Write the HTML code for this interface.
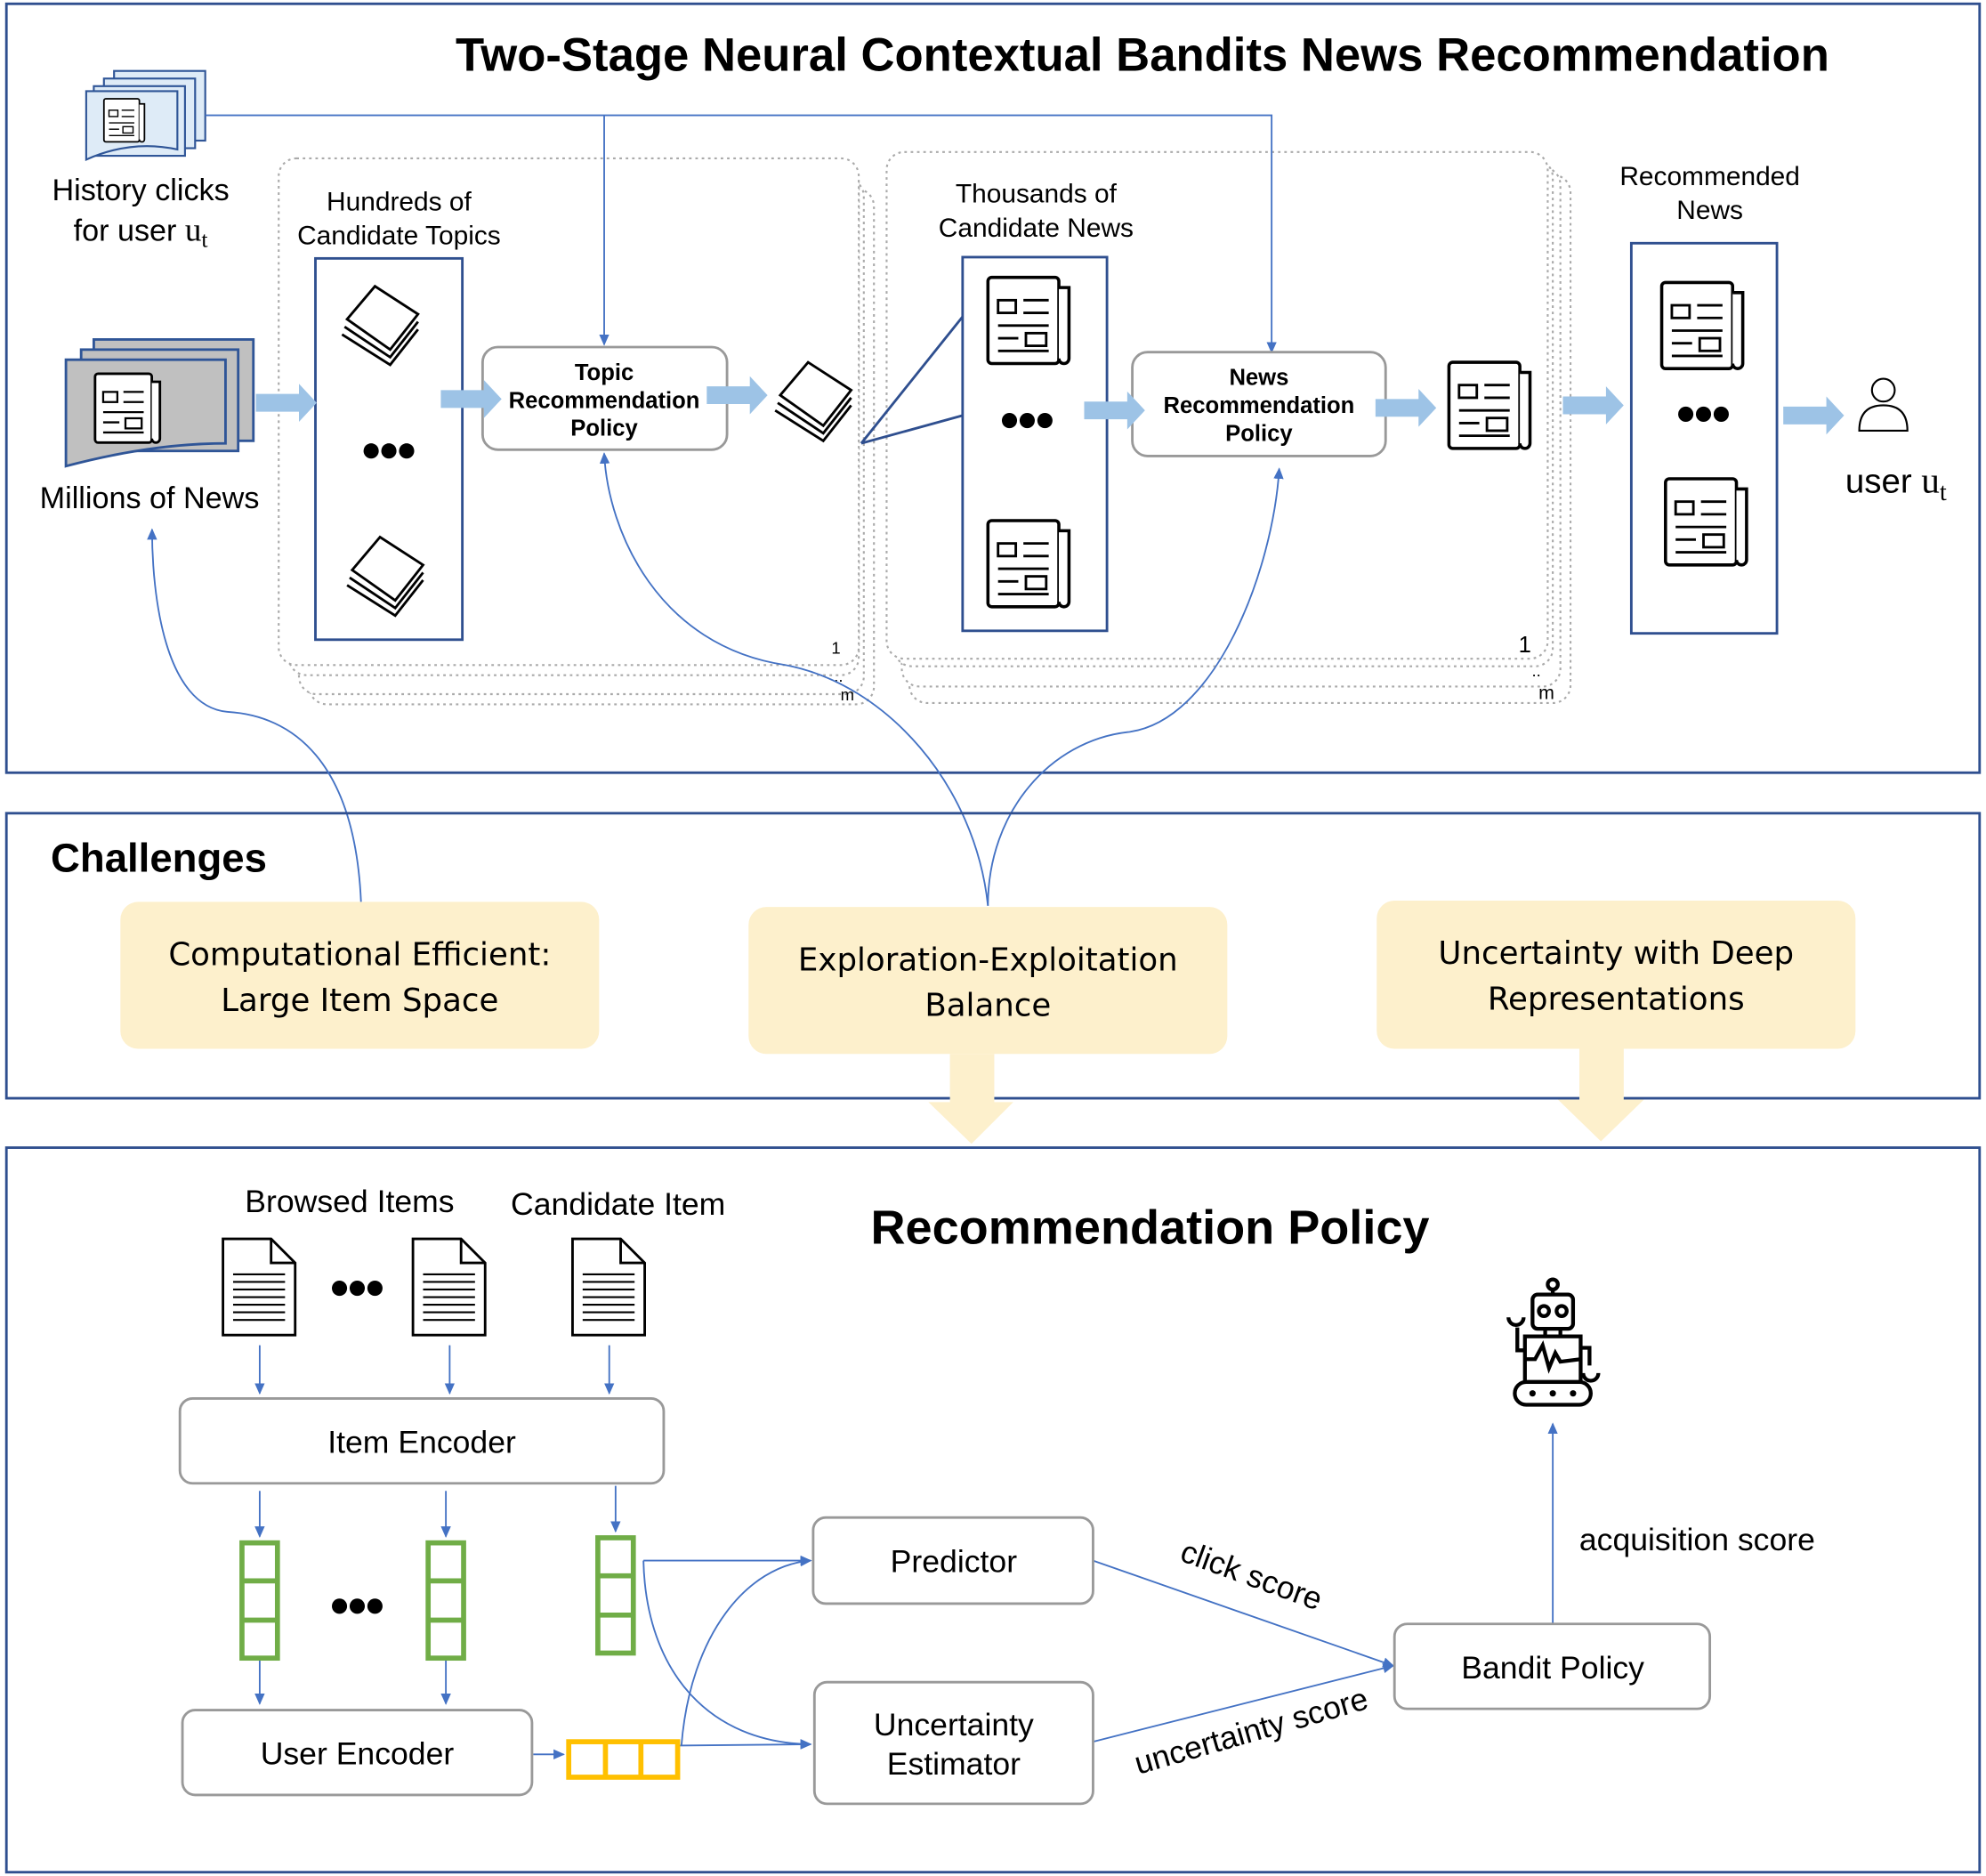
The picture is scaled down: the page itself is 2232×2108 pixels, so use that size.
<!DOCTYPE html>
<html><head><meta charset="utf-8"><style>
html,body{margin:0;padding:0;background:#fff}
svg{display:block}
text{font-family:"Liberation Sans",sans-serif;fill:#000}
</style></head><body>
<svg width="2232" height="2108" viewBox="0 0 1568 1481" xmlns="http://www.w3.org/2000/svg">
<defs>
<marker id="ah" markerWidth="10" markerHeight="10" refX="8" refY="5" orient="auto" markerUnits="userSpaceOnUse"><path d="M0,1 L9,5 L0,9 z" fill="#4472c4"/></marker>
<g id="np">
<rect x="0" y="0" width="56" height="68" rx="3" fill="#fff" stroke="#000" stroke-width="2.5"/>
<path d="M56,8 h8 v56 a4,4 0 0 1 -8,0" fill="#fff" stroke="#000" stroke-width="2.5"/>
<rect x="8" y="18" width="14" height="10" fill="none" stroke="#000" stroke-width="2"/>
<line x1="28" y1="18" x2="48" y2="18" stroke="#000" stroke-width="2"/><line x1="28" y1="28" x2="48" y2="28" stroke="#000" stroke-width="2"/>
<line x1="8" y1="38" x2="48" y2="38" stroke="#000" stroke-width="2"/>
<line x1="8" y1="48" x2="24" y2="48" stroke="#000" stroke-width="2"/><rect x="30" y="44" width="16" height="10" fill="none" stroke="#000" stroke-width="2"/>
<line x1="8" y1="58" x2="48" y2="58" stroke="#000" stroke-width="2"/>
</g>
<g id="stk">
<path d="M6,26 L28,0 L62,22 L40,50 Z" fill="#fff" stroke="#000" stroke-width="2"/>
<path d="M4,32 L40,56 L62,28" fill="none" stroke="#000" stroke-width="2"/>
<path d="M2,38 L40,62 L62,34" fill="none" stroke="#000" stroke-width="2"/>
</g>
<g id="doc">
<path d="M0,0 H38 L57,19 V76 H0 Z" fill="#fff" stroke="#000" stroke-width="2"/>
<path d="M38,0 V19 H57" fill="none" stroke="#000" stroke-width="2"/>
<g stroke="#000" stroke-width="1.5"><line x1="8" y1="28" x2="49" y2="28"/><line x1="8" y1="34" x2="49" y2="34"/><line x1="8" y1="40" x2="49" y2="40"/><line x1="8" y1="46" x2="49" y2="46"/><line x1="8" y1="52" x2="49" y2="52"/><line x1="8" y1="58" x2="49" y2="58"/><line x1="8" y1="64" x2="49" y2="64"/></g>
</g>
<g id="gv"><rect x="0" y="0" width="28" height="91" fill="none" stroke="#70ad47" stroke-width="4"/><line x1="0" y1="30" x2="28" y2="30" stroke="#70ad47" stroke-width="4"/><line x1="0" y1="61" x2="28" y2="61" stroke="#70ad47" stroke-width="4"/></g>
</defs>

<!-- TOP BOX -->
<rect x="5" y="3" width="1558" height="607" fill="none" stroke="#2f4f8f" stroke-width="2"/>
<text x="902" y="56" font-size="37" font-weight="bold" text-anchor="middle">Two-Stage Neural Contextual Bandits News Recommendation</text>

<!-- dotted stacks (back first) -->
<g stroke="#aaa" stroke-width="1.5" stroke-dasharray="2,3" fill="#fff">
<rect x="244" y="149" width="446" height="407" rx="14"/>
<rect x="236" y="141" width="446" height="407" rx="14"/>
<rect x="228" y="133" width="450" height="400" rx="14"/>
<rect x="220" y="125" width="458" height="400" rx="14"/>
<rect x="718" y="138" width="522" height="417" rx="14"/>
<rect x="712" y="132" width="520" height="410" rx="14"/>
<rect x="706" y="126" width="520" height="400" rx="14"/>
<rect x="700" y="120" width="522" height="400" rx="14"/>
</g>
<text x="660" y="516" font-size="13" text-anchor="middle">1</text>
<text x="662" y="538" font-size="13" text-anchor="middle">..</text>
<text x="669" y="553" font-size="13" text-anchor="middle">m</text>
<text x="1204" y="515" font-size="18" text-anchor="middle">1</text>
<text x="1213" y="534" font-size="13" text-anchor="middle">..</text>
<text x="1221" y="552" font-size="15" text-anchor="middle">m</text>

<!-- history icon -->
<g stroke="#2f5597" stroke-width="1.5" fill="#deebf7">
<rect x="90" y="56" width="72" height="55"/><rect x="82" y="62" width="72" height="55"/><rect x="74" y="68" width="72" height="55"/>
<path d="M68,72 H140 V118 Q104,110 68,126 Z"/>
</g>
<g transform="translate(82,78) scale(0.5)"><use href="#np"/></g>
<text x="111" y="158" font-size="24" text-anchor="middle">History clicks</text>
<text x="111" y="190" font-size="24" text-anchor="middle">for user <tspan font-family="Liberation Serif" font-size="26">u</tspan><tspan font-family="Liberation Serif" font-size="18" dy="5">t</tspan></text>

<!-- millions icon -->
<g stroke="#2f5597" stroke-width="2" fill="#c0c0c0">
<rect x="74" y="268" width="126" height="80"/><rect x="64" y="276" width="124" height="80"/>
<path d="M52,284 H178 V350 Q120,350 52,368 Z"/>
</g>
<g transform="translate(75,295) scale(0.8)"><use href="#np"/></g>
<text x="118" y="401" font-size="24" text-anchor="middle">Millions of News</text>

<!-- blue connectors top -->
<g stroke="#4472c4" stroke-width="1.3" fill="none">
<path d="M162,91 H1004 V278" marker-end="url(#ah)"/>
<path d="M477,91 V272" marker-end="url(#ah)"/>
<path d="M285,712 C280,600 230,565 180,562 C130,558 120,470 120,418" marker-end="url(#ah)"/>
<path d="M780,715 C770,620 700,540 620,525 C520,510 480,420 477,358" marker-end="url(#ah)"/>
<path d="M780,715 C780,640 830,585 890,578 C960,570 1005,450 1010,370" marker-end="url(#ah)"/>
</g>

<text x="315" y="166" font-size="21" text-anchor="middle">Hundreds of</text>
<text x="315" y="193" font-size="21" text-anchor="middle">Candidate Topics</text>
<rect x="249" y="204" width="116" height="301" fill="#fff" stroke="#2f4f8f" stroke-width="2"/>
<use href="#stk" x="268" y="226"/>
<use href="#stk" x="272" y="424"/>
<g fill="#000"><circle cx="293" cy="356" r="6"/><circle cx="307" cy="356" r="6"/><circle cx="321" cy="356" r="6"/></g>

<rect x="381" y="274" width="193" height="81" rx="12" fill="#fff" stroke="#999" stroke-width="2"/>
<text x="477" y="300" font-size="18" font-weight="bold" text-anchor="middle">Topic</text>
<text x="477" y="322" font-size="18" font-weight="bold" text-anchor="middle">Recommendation</text>
<text x="477" y="344" font-size="18" font-weight="bold" text-anchor="middle">Policy</text>

<use href="#stk" x="610" y="286"/>

<path d="M680,350 L760,250 M680,350 L760,328" stroke="#2f4f8f" stroke-width="2" fill="none"/>
<text x="818" y="160" font-size="21" text-anchor="middle">Thousands of</text>
<text x="818" y="187" font-size="21" text-anchor="middle">Candidate News</text>
<rect x="760" y="203" width="114" height="295" fill="#fff" stroke="#2f4f8f" stroke-width="2"/>
<use href="#np" x="780" y="219"/>
<use href="#np" x="780" y="411"/>
<g fill="#000"><circle cx="797" cy="332" r="6"/><circle cx="811" cy="332" r="6"/><circle cx="825" cy="332" r="6"/></g>

<rect x="894" y="278" width="200" height="82" rx="12" fill="#fff" stroke="#999" stroke-width="2"/>
<text x="994" y="304" font-size="18" font-weight="bold" text-anchor="middle">News</text>
<text x="994" y="326" font-size="18" font-weight="bold" text-anchor="middle">Recommendation</text>
<text x="994" y="348" font-size="18" font-weight="bold" text-anchor="middle">Policy</text>
<use href="#np" x="1144" y="286"/>

<text x="1350" y="146" font-size="21" text-anchor="middle">Recommended</text>
<text x="1350" y="173" font-size="21" text-anchor="middle">News</text>
<rect x="1288" y="192" width="115" height="308" fill="#fff" stroke="#2f4f8f" stroke-width="2"/>
<use href="#np" x="1312" y="223"/>
<use href="#np" x="1315" y="378"/>
<g fill="#000"><circle cx="1331" cy="327" r="6"/><circle cx="1345" cy="327" r="6"/><circle cx="1359" cy="327" r="6"/></g>

<circle cx="1487" cy="308" r="9" fill="none" stroke="#000" stroke-width="1.5"/>
<path d="M1468,340 Q1468,320 1487,320 Q1506,320 1506,340 Z" fill="none" stroke="#000" stroke-width="1.5"/>
<text x="1497" y="389" font-size="27" text-anchor="middle">user <tspan font-family="Liberation Serif" font-size="29">u</tspan><tspan font-family="Liberation Serif" font-size="20" dy="6">t</tspan></text>

<g fill="#9dc3e6">
<path d="M202,311 H236 V303 L250,318 L236,333 V325 H202 Z"/>
<path d="M348,308 H382 V300 L396,315 L382,330 V322 H348 Z"/>
<path d="M558,305 H592 V297 L606,312 L592,327 V319 H558 Z"/>
<path d="M856,317 H890 V309 L904,324 L890,339 V331 H856 Z"/>
<path d="M1086,315 H1120 V307 L1134,322 L1120,337 V329 H1086 Z"/>
<path d="M1234,313 H1268 V305 L1282,320 L1268,335 V327 H1234 Z"/>
<path d="M1408,321 H1442 V313 L1456,328 L1442,343 V335 H1408 Z"/>
</g>

<!-- CHALLENGES -->
<rect x="5" y="642" width="1558" height="225" fill="none" stroke="#2f4f8f" stroke-width="2"/>
<text x="40" y="688" font-size="32" font-weight="bold">Challenges</text>
<g fill="#fdf0cc">
<rect x="95" y="712" width="378" height="116" rx="14"/>
<rect x="591" y="716" width="378" height="116" rx="14"/>
<rect x="1087" y="711" width="378" height="117" rx="14"/>
<path d="M750,832 H785 V870 H800 L767,903 L733,870 H750 Z"/>
<path d="M1247,828 H1282 V868 H1298 L1264,901 L1230,868 H1247 Z"/>
</g>
<g font-size="25">
<text x="284" y="762" text-anchor="middle" style="font-family:'DejaVu Sans',sans-serif">Computational Efficient:</text>
<text x="284" y="798" text-anchor="middle" style="font-family:'DejaVu Sans',sans-serif">Large Item Space</text>
<text x="780" y="766" text-anchor="middle" style="font-family:'DejaVu Sans',sans-serif">Exploration-Exploitation</text>
<text x="780" y="802" text-anchor="middle" style="font-family:'DejaVu Sans',sans-serif">Balance</text>
<text x="1276" y="761" text-anchor="middle" style="font-family:'DejaVu Sans',sans-serif">Uncertainty with Deep</text>
<text x="1276" y="797" text-anchor="middle" style="font-family:'DejaVu Sans',sans-serif">Representations</text>
</g>

<!-- BOTTOM -->
<rect x="5" y="906" width="1558" height="572" fill="none" stroke="#2f4f8f" stroke-width="2"/>
<text x="908" y="982" font-size="38" font-weight="bold" text-anchor="middle">Recommendation Policy</text>
<text x="276" y="957" font-size="25" text-anchor="middle">Browsed Items</text>
<text x="488" y="959" font-size="25" text-anchor="middle">Candidate Item</text>
<use href="#doc" x="176" y="978"/>
<use href="#doc" x="326" y="978"/>
<use href="#doc" x="452" y="978"/>
<g fill="#000"><circle cx="268" cy="1017" r="6"/><circle cx="282" cy="1017" r="6"/><circle cx="296" cy="1017" r="6"/>
<circle cx="268" cy="1268" r="6"/><circle cx="282" cy="1268" r="6"/><circle cx="296" cy="1268" r="6"/></g>

<g stroke="#4472c4" stroke-width="1.3" fill="none">
<path d="M205,1062 V1100" marker-end="url(#ah)"/>
<path d="M355,1062 V1100" marker-end="url(#ah)"/>
<path d="M481,1062 V1100" marker-end="url(#ah)"/>
<path d="M205,1177 V1213" marker-end="url(#ah)"/>
<path d="M352,1177 V1213" marker-end="url(#ah)"/>
<path d="M486,1173 V1209" marker-end="url(#ah)"/>
<path d="M205,1310 V1345" marker-end="url(#ah)"/>
<path d="M352,1310 V1345" marker-end="url(#ah)"/>
<path d="M421,1385 H445" marker-end="url(#ah)"/>
<path d="M508,1232 H640" marker-end="url(#ah)"/>
<path d="M508,1232 C510,1320 560,1376 640,1377" marker-end="url(#ah)"/>
<path d="M535,1378 L640,1377" marker-end="url(#ah)"/>
<path d="M538,1378 C545,1290 590,1236 640,1232" marker-end="url(#ah)"/>
<path d="M863,1232 L1100,1315" marker-end="url(#ah)"/>
<path d="M863,1375 L1100,1315" marker-end="url(#ah)"/>
<path d="M1226,1282 V1124" marker-end="url(#ah)"/>
</g>

<rect x="142" y="1104" width="382" height="67" rx="10" fill="#fff" stroke="#999" stroke-width="2"/>
<text x="333" y="1147" font-size="25" text-anchor="middle">Item Encoder</text>
<use href="#gv" x="191" y="1218"/>
<use href="#gv" x="338" y="1218"/>
<use href="#gv" x="472" y="1214"/>
<rect x="144" y="1350" width="276" height="67" rx="10" fill="#fff" stroke="#999" stroke-width="2"/>
<text x="282" y="1393" font-size="25" text-anchor="middle">User Encoder</text>
<g fill="none" stroke="#ffc000" stroke-width="4"><rect x="449" y="1375" width="86" height="28"/><line x1="478" y1="1375" x2="478" y2="1403"/><line x1="506" y1="1375" x2="506" y2="1403"/></g>

<rect x="642" y="1198" width="221" height="68" rx="10" fill="#fff" stroke="#999" stroke-width="2"/>
<text x="753" y="1241" font-size="25" text-anchor="middle">Predictor</text>
<rect x="643" y="1328" width="220" height="96" rx="10" fill="#fff" stroke="#999" stroke-width="2"/>
<text x="753" y="1370" font-size="25" text-anchor="middle">Uncertainty</text>
<text x="753" y="1401" font-size="25" text-anchor="middle">Estimator</text>
<rect x="1101" y="1282" width="249" height="67" rx="10" fill="#fff" stroke="#999" stroke-width="2"/>
<text x="1226" y="1325" font-size="25" text-anchor="middle">Bandit Policy</text>

<text x="988" y="1252" font-size="25" text-anchor="middle" transform="rotate(20 988 1244)">click score</text>
<text x="988" y="1375" font-size="25" text-anchor="middle" transform="rotate(-16 988 1367)">uncertainty score</text>
<text x="1340" y="1224" font-size="25" text-anchor="middle">acquisition score</text>

<g fill="none" stroke="#000" stroke-width="3">
<circle cx="1226" cy="1014" r="4"/><line x1="1226" y1="1018" x2="1226" y2="1022"/>
<rect x="1210" y="1022" width="32" height="27" rx="4"/>
<circle cx="1219" cy="1035" r="4"/><circle cx="1233" cy="1035" r="4"/>
<line x1="1220" y1="1049" x2="1220" y2="1055"/><line x1="1232" y1="1049" x2="1232" y2="1055"/>
<rect x="1204" y="1055" width="44" height="36"/>
<path d="M1204,1073 H1212 L1218,1062 L1223,1080 L1228,1068 L1232,1075 L1248,1073"/>
<path d="M1204,1066 H1198 V1048 M1191,1040 a6,6 0 0 0 12,0"/>
<path d="M1248,1064 H1255 V1078 M1250,1084 a6,6 0 0 0 12,0"/>
<rect x="1196" y="1091" width="60" height="18" rx="9"/>
</g>
<g fill="#000"><circle cx="1210" cy="1100" r="2.5"/><circle cx="1226" cy="1100" r="2.5"/><circle cx="1242" cy="1100" r="2.5"/></g>
</svg>
</body></html>
